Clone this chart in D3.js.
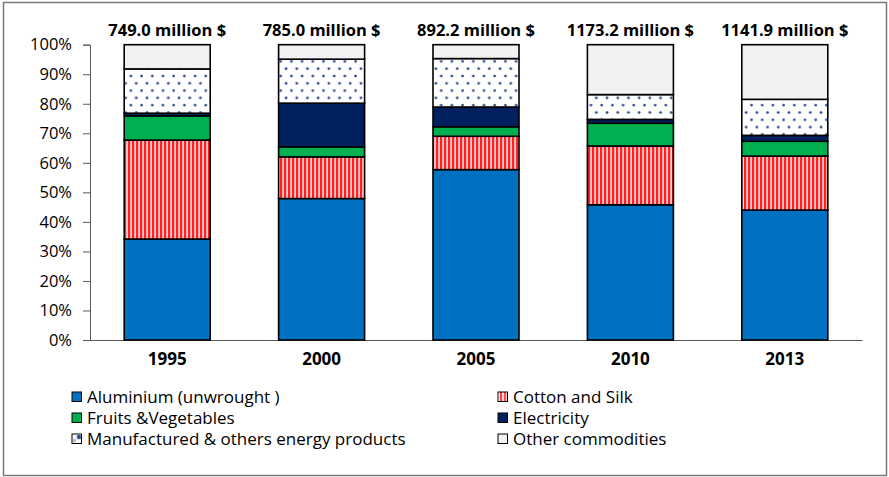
<!DOCTYPE html>
<html>
<head>
<meta charset="utf-8">
<script src="https://cdn.jsdelivr.net/npm/d3@7"></script>
<style>
  html, body { margin: 0; padding: 0; background: #fff; }
  svg { display: block; font-family: "Open Sans", "Lato", sans-serif; }
</style>
</head>
<body>
<svg id="chart" width="889" height="477"></svg>
<script>
// Export structure by year (share of total, %)
const years = ["1995", "2000", "2005", "2010", "2013"];
const totals = ["749.0 million $", "785.0 million $", "892.2 million $", "1173.2 million $", "1141.9 million $"];
const seriesNames = [
  "Aluminium (unwrought )",
  "Cotton and Silk",
  "Fruits &Vegetables",
  "Electricity",
  "Manufactured & others energy products",
  "Other commodities"
];
const aluminium   = [34.2, 47.9, 57.7, 45.8, 44.0];
const cottonSilk  = [33.5, 14.1, 11.3, 19.9, 18.3];
const fruitsVeg   = [8.2, 3.4, 3.2, 7.7, 5.0];
const electricity = [0.9, 14.8, 6.7, 1.3, 2.0];
const manufEnergy = [15.0, 14.9, 16.4, 8.4, 12.2];
const otherComm   = [8.2, 4.9, 4.7, 16.9, 18.5];
const yTicks = [0, 10, 20, 30, 40, 50, 60, 70, 80, 90, 100];

const seriesValues = [aluminium, cottonSilk, fruitsVeg, electricity, manufEnergy, otherComm];

const svg = d3.select("#chart");
const W = 889, H = 477;
const FONT = "'Open Sans', Lato, sans-serif";

// outer frame
svg.append("rect")
  .attr("x", 3.5).attr("y", 2.5).attr("width", W - 6).attr("height", H - 4)
  .attr("fill", "#fff").attr("stroke", "#7a7a7a").attr("stroke-width", 1.5);

// patterns
const defs = svg.append("defs");
const stripes = defs.append("pattern")
  .attr("id", "stripes").attr("patternUnits", "userSpaceOnUse")
  .attr("width", 4).attr("height", 4);
stripes.append("rect").attr("width", 4).attr("height", 4).attr("fill", "#ffd0d4");
stripes.append("rect").attr("x", 0).attr("width", 2.2).attr("height", 4).attr("fill", "#ff2020");

const dots = defs.append("pattern")
  .attr("id", "dots").attr("patternUnits", "userSpaceOnUse")
  .attr("width", 10.7).attr("height", 14.6);
dots.append("rect").attr("width", 10.7).attr("height", 14.6).attr("fill", "#fff");
dots.append("circle").attr("cx", 2.5).attr("cy", 3).attr("r", 1.4).attr("fill", "#2a4a8a");
dots.append("circle").attr("cx", 7.85).attr("cy", 10.3).attr("r", 1.4).attr("fill", "#2a4a8a");

const fills = ["#0070c0", "url(#stripes)", "#00b050", "#002060", "url(#dots)", "#f2f2f2"];
const legendFills = ["#0070c0", "url(#stripesL)", "#00b050", "#002060", "url(#dotsL)", "#f2f2f2"];

// small legend patterns
const stripesL = defs.append("pattern")
  .attr("id", "stripesL").attr("patternUnits", "objectBoundingBox")
  .attr("width", 1).attr("height", 1);
stripesL.append("rect").attr("width", 10).attr("height", 10).attr("fill", "#fff");
stripesL.append("rect").attr("x", 2).attr("width", 2).attr("height", 10).attr("fill", "#ff2020");
stripesL.append("rect").attr("x", 6).attr("width", 2).attr("height", 10).attr("fill", "#ff2020");
const dotsL = defs.append("pattern")
  .attr("id", "dotsL").attr("patternUnits", "objectBoundingBox")
  .attr("width", 1).attr("height", 1);
dotsL.append("rect").attr("width", 10).attr("height", 10).attr("fill", "#fff");
dotsL.append("rect").attr("x", 5).attr("y", 1).attr("width", 4).attr("height", 4).attr("fill", "#2a4a8a");
dotsL.append("rect").attr("x", 1).attr("y", 5).attr("width", 3).attr("height", 3).attr("fill", "#9fb0cf");

const plot = { left: 90, right: 862, top: 44.7, bottom: 340 };

const x = d3.scaleBand().domain(years).range([plot.left, plot.right]).paddingInner(0.443).paddingOuter(0.2215);
const y = d3.scaleLinear().domain([0, 100]).range([plot.bottom, plot.top]);

// stack
const rows = years.map((yr, i) => {
  const r = { year: yr };
  seriesNames.forEach((s, k) => { r[s] = seriesValues[k][i]; });
  return r;
});
const stacked = d3.stack().keys(seriesNames)(rows);

// axes
const yAxis = d3.axisLeft(y).tickValues(yTicks).tickFormat(d => d + "%").tickSize(7).tickPadding(11);
const gy = svg.append("g").attr("transform", `translate(${plot.left},0)`).call(yAxis);
gy.select(".domain").attr("stroke", "#595959").attr("stroke-width", 1);
gy.selectAll(".tick line").attr("stroke", "#595959");
gy.selectAll(".tick text").attr("font-size", 16.5).attr("fill", "#000").attr("font-family", FONT);

const xAxis = d3.axisBottom(x).tickSize(0).tickPadding(13);
const gx = svg.append("g").attr("transform", `translate(0,${plot.bottom})`).call(xAxis);
gx.select(".domain").attr("stroke", "#595959").attr("stroke-width", 1);
gx.selectAll(".tick text").attr("font-size", 17).attr("font-weight", "bold").attr("fill", "#000")
  .attr("font-family", FONT);

// bars
stacked.forEach((layer, k) => {
  svg.append("g").selectAll("rect").data(layer).join("rect")
    .attr("x", d => x(d.data.year))
    .attr("width", x.bandwidth())
    .attr("y", d => y(d[1]))
    .attr("height", d => y(d[0]) - y(d[1]))
    .attr("fill", fills[k])
    .attr("stroke", "#000")
    .attr("stroke-width", 1.6);
});

// totals above bars
svg.append("g").selectAll("text").data(years).join("text")
  .attr("x", d => x(d) + x.bandwidth() / 2)
  .attr("y", 36)
  .attr("text-anchor", "middle")
  .attr("font-size", 16.5)
  .attr("font-weight", "bold")
  .text((d, i) => totals[i]);

// legend
const legendPos = [
  { x: 72, y: 397 }, { x: 498, y: 397 },
  { x: 72, y: 418 }, { x: 498, y: 418 },
  { x: 72, y: 439 }, { x: 498, y: 439 }
];
const legendOrder = [0, 1, 2, 3, 4, 5];
const lg = svg.append("g").selectAll("g").data(legendOrder).join("g")
  .attr("transform", (d, i) => `translate(${legendPos[i].x},${legendPos[i].y})`);
lg.append("rect")
  .attr("x", 0).attr("y", -5).attr("width", 9.5).attr("height", 9.5)
  .attr("fill", d => legendFills[d])
  .attr("stroke", "#000").attr("stroke-width", 1);
lg.append("text")
  .attr("x", 15).attr("y", 0).attr("dy", "0.35em")
  .attr("font-size", 17)
  .text(d => seriesNames[d]);
</script>
</body>
</html>
